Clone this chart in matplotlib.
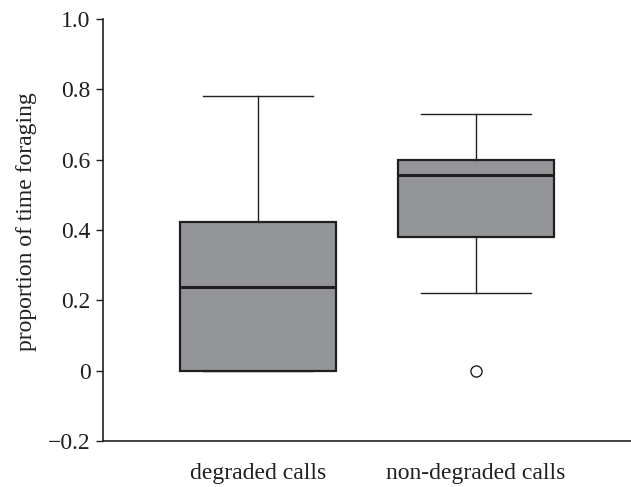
import matplotlib
matplotlib.use('Agg')
import matplotlib.pyplot as plt

# summary statistics
groups = ['degraded calls', 'non-degraded calls']
medians = [0.238, 0.555]
q1s = [0.0, 0.381]
q3s = [0.424, 0.598]
whisLow = [0.0, 0.220]
whisHigh = [0.780, 0.730]
outliers = [[], [0.0]]
yTicks = [-0.2, 0, 0.2, 0.4, 0.6, 0.8, 1.0]
yTickLabels = ['\u22120.2', '0', '0.2', '0.4', '0.6', '0.8', '1.0']

plt.rcParams['font.family'] = ['Liberation Serif', 'DejaVu Serif']

boxFill = '#939598'
edge = '#231f20'

stats = []
for i in range(len(groups)):
    stats.append({'med': medians[i], 'q1': q1s[i], 'q3': q3s[i],
                  'whislo': whisLow[i], 'whishi': whisHigh[i],
                  'fliers': outliers[i], 'label': groups[i]})

fig = plt.figure(figsize=(6.31, 4.87), dpi=100)
ax = fig.add_axes([0.1632, 0.0945, 0.8368, 0.8665])

ax.bxp(stats, positions=[1, 2], widths=0.716, patch_artist=True,
       boxprops=dict(facecolor=boxFill, edgecolor=edge, linewidth=1.6),
       medianprops=dict(color=edge, linewidth=2.2),
       whiskerprops=dict(color=edge, linewidth=1.0),
       capprops=dict(color=edge, linewidth=1.0),
       capwidths=0.505,
       flierprops=dict(marker='o', markerfacecolor='white',
                       markeredgecolor=edge, markersize=8, markeredgewidth=1.0))

ax.set_xlim(0.289, 2.711)
ax.set_ylim(-0.2, 1.0)
ax.set_yticks(yTicks)
ax.set_yticklabels(yTickLabels)
ax.spines['top'].set_visible(False)
ax.spines['right'].set_visible(False)
for s in ['left', 'bottom']:
    ax.spines[s].set_color(edge)
    ax.spines[s].set_linewidth(1.2)
ax.tick_params(axis='y', direction='out', length=5, width=1.0, color=edge,
               labelsize=17, labelcolor=edge, pad=4)
ax.tick_params(axis='x', length=0, labelsize=17, labelcolor=edge, pad=16)
ax.set_ylabel('proportion of time foraging', fontsize=17, color=edge,
              labelpad=8)
ax.yaxis.label.set_y(0.52)

fig.savefig('out.png', dpi=100)
